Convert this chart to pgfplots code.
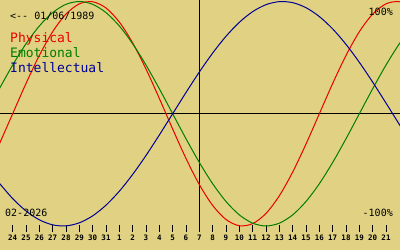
\documentclass[border=0pt]{standalone}
\usepackage{pgfplots}
\pgfplotsset{compat=1.18}
\usepackage{fontspec}
\newfontfamily\mono{DejaVu Sans Mono}
\definecolor{bg}{RGB}{224,210,130}
\definecolor{cphys}{RGB}{235,0,0}
\definecolor{cemo}{RGB}{0,125,0}
\definecolor{cint}{RGB}{0,0,150}
\begin{document}
\begin{tikzpicture}
\fill[bg] (0,-18bp) rectangle (400bp,232bp);
\begin{axis}[
  at={(0,0)}, anchor=south west,
  width=400bp, height=232bp, scale only axis,
  xmin=-0.95, xmax=29.05, ymin=-1.0535, ymax=1.0134,
  axis line style={draw=none},
  ytick=\empty,
  xtick={0,...,28},
  xticklabels={24,25,26,27,28,29,30,31,1,2,3,4,5,6,7,8,9,10,11,12,13,14,15,16,17,18,19,20,21},
  xtick pos=bottom,
  tick align=inside,
  major tick length=7bp,
  every tick/.style={black, line width=1bp},
  xticklabel style={font=\mono\bfseries\fontsize{7.5bp}{8bp}\selectfont, anchor=center, yshift=-6bp, inner sep=0pt},
]
\addplot[black, line width=1bp] coordinates {(-2,0) (31,0)};
\addplot[black, line width=1bp] coordinates {(14,-2) (14,2)};
% Physical
\addplot[cphys, line width=1bp, smooth] coordinates {
(-1,-0.2698) (0,0) (1,0.2698) (2,0.5196) (3,0.7308) (4,0.8879) (5,0.9791) (6,0.9977) (7,0.9423) (8,0.8170) (9,0.6311) (10,0.3984) (11,0.1362) (12,-0.1362) (13,-0.3984) (14,-0.6311) (15,-0.8170) (16,-0.9423) (17,-0.9977) (18,-0.9791) (19,-0.8879) (20,-0.7308) (21,-0.5196) (22,-0.2698) (23,0) (24,0.2698) (25,0.5196) (26,0.7308) (27,0.8879) (28,0.9791) (29,0.9977) (30,0.9423)};
% Emotional
\addplot[cemo, line width=1bp, smooth] coordinates {
(-1,0.2225) (0,0.4339) (1,0.6235) (2,0.7818) (3,0.9010) (4,0.9749) (5,1) (6,0.9749) (7,0.9010) (8,0.7818) (9,0.6235) (10,0.4339) (11,0.2225) (12,0) (13,-0.2225) (14,-0.4339) (15,-0.6235) (16,-0.7818) (17,-0.9010) (18,-0.9749) (19,-1) (20,-0.9749) (21,-0.9010) (22,-0.7818) (23,-0.6235) (24,-0.4339) (25,-0.2225) (26,0) (27,0.2225) (28,0.4339) (29,0.6235) (30,0.7818)};
% Intellectual
\addplot[cint, line width=1bp, smooth] coordinates {
(-1,-0.6182) (0,-0.7557) (1,-0.8660) (2,-0.9450) (3,-0.9898) (4,-0.9989) (5,-0.9718) (6,-0.9096) (7,-0.8146) (8,-0.6901) (9,-0.5406) (10,-0.3717) (11,-0.1893) (12,0) (13,0.1893) (14,0.3717) (15,0.5406) (16,0.6901) (17,0.8146) (18,0.9096) (19,0.9718) (20,0.9989) (21,0.9898) (22,0.9450) (23,0.8660) (24,0.7557) (25,0.6182) (26,0.4582) (27,0.2817) (28,0.0951) (29,-0.0951) (30,-0.2817)};
\end{axis}
\begin{scope}[every node/.style={inner sep=0pt, font=\mono\fontsize{10bp}{11bp}\selectfont}]
\node[anchor=base west] at (10bp,212bp) {<-- 01/06/1989};
\node[anchor=base east] at (393bp,216bp) {100\%};
\node[anchor=base east] at (393bp,16bp) {-100\%};
\node[anchor=base west] at (5bp,16bp) {02-2026};
\end{scope}
\begin{scope}[every node/.style={inner sep=0pt, anchor=base west, font=\mono\fontsize{13bp}{14bp}\selectfont}]
\node[text=cphys] at (10bp,189.5bp) {Physical};
\node[text=cemo] at (10bp,174bp) {Emotional};
\node[text=cint] at (10bp,159bp) {Intellectual};
\end{scope}
\end{tikzpicture}
\end{document}
